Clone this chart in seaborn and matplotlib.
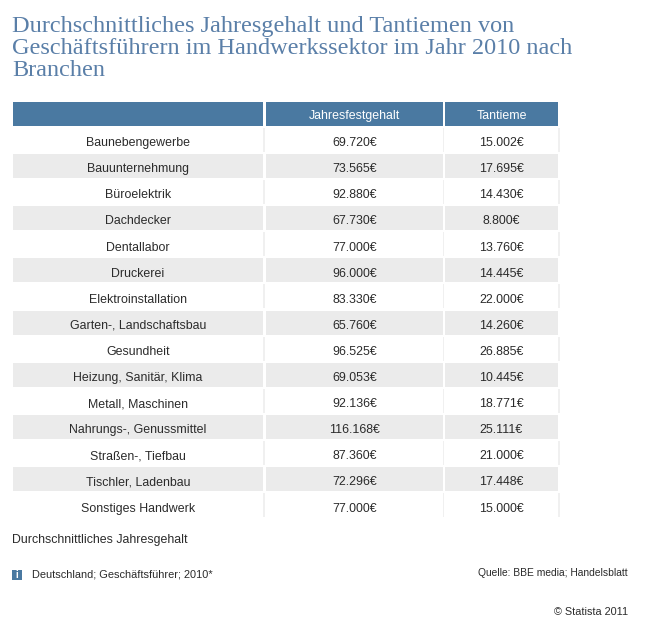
import numpy as np
import pandas as pd
import matplotlib
matplotlib.use("Agg")
import matplotlib.pyplot as plt
from matplotlib.colors import ListedColormap
import seaborn as sns

# ---- data ----
branchen = ["Baunebengewerbe", "Bauunternehmung", "Büroelektrik", "Dachdecker",
            "Dentallabor", "Druckerei", "Elektroinstallation",
            "Garten-, Landschaftsbau", "Gesundheit", "Heizung, Sanitär, Klima",
            "Metall, Maschinen", "Nahrungs-, Genussmittel", "Straßen-, Tiefbau",
            "Tischler, Ladenbau", "Sonstiges Handwerk"]
jahresfestgehalt = [69720, 73565, 92880, 67730, 77000, 96000, 83330, 65760,
                    96525, 69053, 92136, 116168, 87360, 72296, 77000]
tantieme = [15002, 17695, 14430, 8800, 13760, 14445, 22000, 14260,
            26885, 10445, 18771, 25111, 21000, 17448, 15000]
headers = ["", "Jahresfestgehalt", "Tantieme"]

title_lines = ["Durchschnittliches Jahresgehalt und Tantiemen von",
               "Geschäftsführern im Handwerkssektor im Jahr 2010 nach",
               "Branchen"]
subtitle = "Durchschnittliches Jahresgehalt"
info_text = "Deutschland; Geschäftsführer; 2010*"
source_text = "Quelle: BBE media; Handelsblatt"
copyright_text = "© Statista 2011"


def euro(v):
    return f"{v:,}".replace(",", ".") + "€"


columns = [branchen, [euro(v) for v in jahresfestgehalt], [euro(v) for v in tantieme]]

# ---- figure ----
sns.set_theme(style="white")
plt.rcParams["font.family"] = ["Liberation Sans", "DejaVu Sans"]

W, H = 650, 619
DPI = 100
fig = plt.figure(figsize=(W / DPI, H / DPI), dpi=DPI, facecolor="white")

HEADER_BLUE = "#4a79a1"
ROW_GRAY = "#ebebeb"
TEXT = "#2b2b2b"
TITLE_BLUE = "#5a7fa8"
LINE_GRAY = "#ececec"

n_rows = len(branchen)
# cell state: 2 = header, 1 = gray row, 0 = white row
states = np.array([2] + [i % 2 for i in range(n_rows)])
cmap = ListedColormap(["white", ROW_GRAY, HEADER_BLUE])

top_px = 100.7
pitch = 26.1
bottom_px = top_px + pitch * (n_rows + 1)
col_px = [(12, 264), (265, 443.7), (444, 559)]
gap_pt = 2 * 72 / DPI
FS = 8.95

for j, (x0, x1) in enumerate(col_px):
    ax = fig.add_axes([x0 / W, 1 - bottom_px / H, (x1 - x0) / W, (bottom_px - top_px) / H])
    df = pd.DataFrame({"v": states})
    sns.heatmap(df, ax=ax, cmap=cmap, vmin=-0.5, vmax=2.5, cbar=False,
                linewidths=gap_pt, linecolor="white", xticklabels=False,
                yticklabels=False)
    ax.set_xlabel("")
    ax.set_ylabel("")
    # thin light separators on the right of white-row cells
    for k in range(1, n_rows + 1):
        if states[k] == 0:
            ax.vlines(1.0, k + 0.04, k + 0.96, colors=LINE_GRAY, linewidth=1.1,
                      clip_on=False, zorder=5)
    # header text
    if headers[j]:
        ax.text(0.5, 0.70, headers[j], ha="center", va="baseline", color="white",
                fontsize=FS)
    for k, s in enumerate(columns[j]):
        ax.text(0.5, k + 1.74, s, ha="center", va="baseline", color=TEXT, fontsize=FS)

# ---- title ----
for i, line in enumerate(title_lines):
    y = 32.3 + 21.8 * i
    fig.text(12 / W, 1 - y / H, line, ha="left", va="baseline", color=TITLE_BLUE,
             fontsize=17.5, family=["Liberation Serif"])

# ---- footer ----
fig.text(12 / W, 1 - 543.3 / H, subtitle, ha="left", va="baseline", color=TEXT, fontsize=FS)

icon_ax = fig.add_axes([12 / W, 1 - 579.5 / H, 9.8 / W, 9.8 / H])
icon_ax.set_facecolor(HEADER_BLUE)
icon_ax.set_xticks([])
icon_ax.set_yticks([])
for sp in icon_ax.spines.values():
    sp.set_visible(False)
icon_ax.text(0.5, 0.45, "i", ha="center", va="center", color="white",
             fontsize=7, fontweight="bold", transform=icon_ax.transAxes)

fig.text(32 / W, 1 - 577.5 / H, info_text, ha="left", va="baseline", color=TEXT, fontsize=7.9)
fig.text(628 / W, 1 - 576.5 / H, source_text, ha="right", va="baseline", color=TEXT, fontsize=7.4)
fig.text(628 / W, 1 - 615 / H, copyright_text, ha="right", va="baseline", color=TEXT, fontsize=7.8)

fig.savefig("out.png", dpi=DPI, facecolor="white")
